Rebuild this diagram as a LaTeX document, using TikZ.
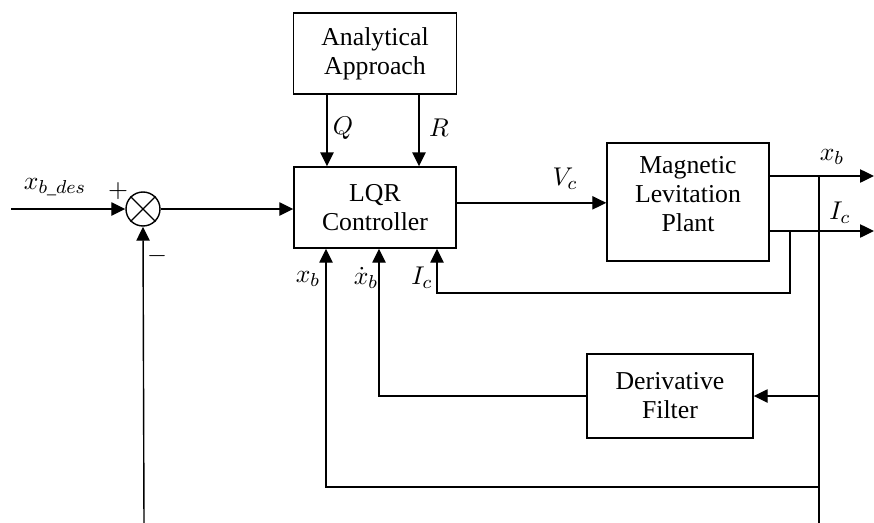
\documentclass[tikz,border=0pt]{standalone}
\usepackage{amsmath}
\usepackage{fontspec}
\setmainfont{Liberation Serif}
\usetikzlibrary{arrows.meta,positioning,calc}

\begin{document}
\begin{tikzpicture}[x=0.015cm, y=-0.015cm,
    font=\fontsize{11}{12.4}\selectfont,
    block/.style={draw, line width=0.6pt, align=center, inner sep=0pt},
    sumjn/.style={draw, line width=0.6pt, circle, inner sep=0pt, minimum size=0.51cm},
    lbl/.style={inner sep=0.5pt},
    wire/.style={line width=0.6pt},
    sig/.style={wire, -{Triangle[length=2.1mm, width=2mm]}}]
    \useasboundingbox (0,0) rectangle (874,523);
    % define blocks
    \node[block, minimum width=2.445cm, minimum height=1.215cm] (approach) at (375,53.5) {Analytical\\Approach};
    \node[block, minimum width=2.43cm, minimum height=1.215cm] (lqr_ctrl) at (375,207.5) {LQR\\Controller};
    \node[block, minimum width=2.43cm, minimum height=1.77cm] (plant) at (688,202) {Magnetic\\Levitation\\Plant\\[-0.2cm]};
    \node[block, minimum width=2.49cm, minimum height=1.26cm] (filter) at (670,396) {Derivative\\Filter};
    \node[sumjn] (sum_jn) at (143,209) {};
    % define free ends and taps
    \coordinate (ref_in) at (11,209);
    \coordinate (sum_fb) at (144,523);
    \coordinate (xb_out) at (874,176);
    \coordinate (ic_out) at (874,231);
    \coordinate (xb_tap) at (819,176);
    \coordinate (xb_end) at (819,523);
    \coordinate (ic_tap) at (790,231);
    \coordinate (ic_low) at (437,293);
    \coordinate (xb_low) at (819,487);
    \coordinate (xb_col) at (326,0);
    \coordinate (xd_col) at (379,0);
    % draw diagram
    \draw[wire] (sum_jn.north west) -- (sum_jn.south east);
    \draw[wire] (sum_jn.north east) -- (sum_jn.south west);
    \draw[sig] (ref_in) -- (sum_jn.west);
    \draw[sig] (sum_fb) -- (sum_jn.south);
    \draw[sig] (sum_jn.east) -- (sum_jn.east -| lqr_ctrl.west);
    \draw[sig] ([xshift=-0.72cm]approach.south) -- ([xshift=-0.72cm]lqr_ctrl.north);
    \draw[sig] ([xshift=0.66cm]approach.south) -- ([xshift=0.66cm]lqr_ctrl.north);
    \draw[sig] ([yshift=0.07cm]lqr_ctrl.east) -- ([yshift=0.07cm]lqr_ctrl.east -| plant.west);
    \draw[sig] (xb_out -| plant.east) -- (xb_out);
    \draw[sig] (ic_out -| plant.east) -- (ic_out);
    \draw[wire] (xb_tap) -- (xb_end);
    \draw[sig] (ic_tap) |- (ic_low) -- (ic_low |- lqr_ctrl.south);
    \draw[sig] (filter.east -| xb_tap) -- (filter.east);
    \draw[sig] (filter.west) -| (xd_col |- lqr_ctrl.south);
    \draw[sig] (xb_low) -| (xb_col |- lqr_ctrl.south);
    % add labels
    \node[lbl] (lbl_ref) at (55,187) {$x_{b\_des}$};
    \node[lbl] (lbl_plus) at (118,191) {$+$};
    \node[lbl] (lbl_minus) at (157,256) {$-$};
    \node[lbl] (lbl_q) at (343,128) {$Q$};
    \node[lbl] (lbl_r) at (439,128) {$R$};
    \node[lbl] (lbl_vc) at (565,179) {$V_c$};
    \node[lbl] (lbl_xb) at (832,157) {$x_b$};
    \node[lbl] (lbl_ic) at (840,213) {$I_c$};
    \node[lbl] (lbl_xbfb) at (308,279) {$x_b$};
    \node[lbl] (lbl_xdot) at (366,278) {$\dot{x}_b$};
    \node[lbl] (lbl_icfb) at (422,278) {$I_c$};
\end{tikzpicture}
\end{document}
